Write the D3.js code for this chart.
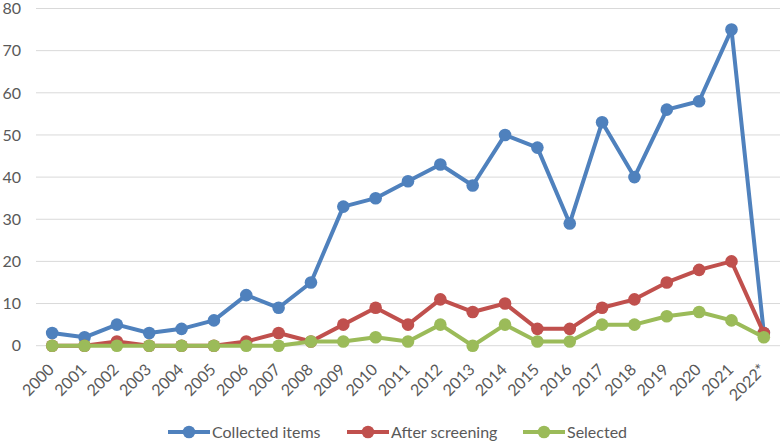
<!DOCTYPE html>
<html>
<head>
<meta charset="utf-8">
<script src="https://cdn.jsdelivr.net/npm/d3@7"></script>
<style>
  body { margin: 0; background: #fff; }
  svg text { font-family: Lato, "Open Sans", sans-serif; fill: #595959; }
</style>
</head>
<body>
<div id="chart"></div>
<script>
const years = ["2000", "2001", "2002", "2003", "2004", "2005", "2006", "2007", "2008", "2009", "2010",
  "2011", "2012", "2013", "2014", "2015", "2016", "2017", "2018", "2019", "2020", "2021", "2022*"];
const collected = [3, 2, 5, 3, 4, 6, 12, 9, 15, 33, 35, 39, 43, 38, 50, 47, 29, 53, 40, 56, 58, 75, 3];
const afterScreening = [0, 0, 1, 0, 0, 0, 1, 3, 1, 5, 9, 5, 11, 8, 10, 4, 4, 9, 11, 15, 18, 20, 3];
const selected = [0, 0, 0, 0, 0, 0, 0, 0, 1, 1, 2, 1, 5, 0, 5, 1, 1, 5, 5, 7, 8, 6, 2];
const yTicks = [0, 10, 20, 30, 40, 50, 60, 70, 80];

const seriesList = [
  { name: "Collected items", values: collected, color: "#4F81BD" },
  { name: "After screening", values: afterScreening, color: "#C0504D" },
  { name: "Selected", values: selected, color: "#9BBB59" }
];

let width = 782;
let height = 442;
let plotLeft = 36, plotRight = 780, plotTop = 8.5, plotBottom = 345.7;

let svg = d3.select("#chart").append("svg")
  .attr("width", width)
  .attr("height", height);

let x = d3.scaleBand().domain(years).range([plotLeft, plotRight]);
let y = d3.scaleLinear().domain([0, 80]).range([plotBottom, plotTop]);
let cx = (d) => x(d) + x.bandwidth() / 2;

// gridlines
svg.selectAll("line.grid")
  .data(yTicks)
  .enter()
  .append("line")
  .classed("grid", true)
  .attr("x1", plotLeft)
  .attr("x2", plotRight)
  .attr("y1", (d) => y(d))
  .attr("y2", (d) => y(d))
  .attr("stroke", "#d9d9d9")
  .attr("stroke-width", 1);

// y labels
svg.selectAll("text.y-label")
  .data(yTicks)
  .enter()
  .append("text")
  .classed("y-label", true)
  .attr("x", 21)
  .attr("y", (d) => y(d))
  .attr("dy", "0.36em")
  .attr("text-anchor", "end")
  .attr("font-size", 16)
  .text((d) => d);

// x labels
svg.selectAll("text.x-label")
  .data(years)
  .enter()
  .append("text")
  .classed("x-label", true)
  .attr("text-anchor", "end")
  .attr("font-size", 16)
  .attr("transform", (d) => `translate(${cx(d) + 3},${plotBottom + 25}) rotate(-45)`)
  .text((d) => d);

let line = d3.line()
  .x((d, i) => cx(years[i]))
  .y((d) => y(d));

let groups = svg.selectAll("g.series")
  .data(seriesList)
  .enter()
  .append("g")
  .classed("series", true);

groups.append("path")
  .attr("d", (s) => line(s.values))
  .attr("fill", "none")
  .attr("stroke", (s) => s.color)
  .attr("stroke-width", 4)
  .attr("stroke-linejoin", "round");

groups.selectAll("circle")
  .data((s) => s.values.map((v, i) => ({ v: v, year: years[i], color: s.color })))
  .enter()
  .append("circle")
  .attr("cx", (d) => cx(d.year))
  .attr("cy", (d) => y(d.v))
  .attr("r", 6.3)
  .attr("fill", (d) => d.color);

// legend
let legendX = [168, 347, 523];
let legend = svg.selectAll("g.legend")
  .data(seriesList)
  .enter()
  .append("g")
  .classed("legend", true)
  .attr("transform", (d, i) => `translate(${legendX[i]},432)`);

legend.append("line")
  .attr("x1", 0).attr("x2", 42)
  .attr("y1", 0).attr("y2", 0)
  .attr("stroke", (d) => d.color)
  .attr("stroke-width", 4);

legend.append("circle")
  .attr("cx", 21).attr("cy", 0)
  .attr("r", 6.3)
  .attr("fill", (d) => d.color);

legend.append("text")
  .attr("x", 44)
  .attr("y", 0)
  .attr("dy", "0.36em")
  .attr("font-size", 16)
  .text((d) => d.name);
</script>
</body>
</html>
